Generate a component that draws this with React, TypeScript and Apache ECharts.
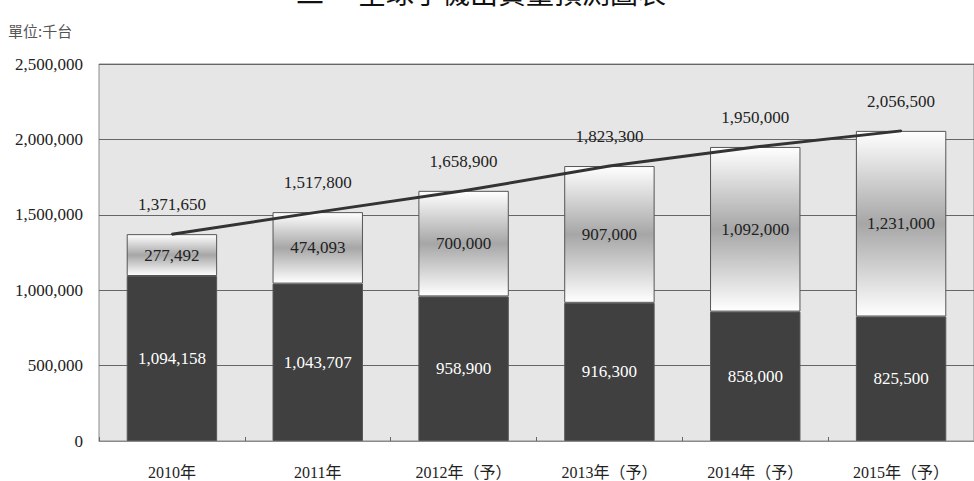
import React, { useEffect, useRef } from "react";
import * as echarts from "echarts";

const categories = ["2010年", "2011年", "2012年（予）", "2013年（予）", "2014年（予）", "2015年（予）"];
const baseValues = [1094158, 1043707, 958900, 916300, 858000, 825500];
const upperValues = [277492, 474093, 700000, 907000, 1092000, 1231000];
const totalValues = [1371650, 1517800, 1658900, 1823300, 1950000, 2056500];
const yTicks = { min: 0, max: 2500000, interval: 500000 };

const SERIF = '"Liberation Serif", "Noto Sans CJK TC", serif';
const fmt = (v: number) => v.toLocaleString("en-US");

export default function App() {
  const ref = useRef<HTMLDivElement>(null);
  useEffect(() => {
    if (!ref.current) return;
    const chart = echarts.init(ref.current, undefined, { renderer: "svg" });
    chart.setOption({
      animation: false,
      backgroundColor: "#ffffff",
      graphic: [
        {
          type: "text",
          x: 296,
          y: 6,
          style: { text: "二", fontSize: 28, fontFamily: '"Noto Sans CJK TC"', fill: "#111", textVerticalAlign: "bottom" },
        },
        {
          type: "text",
          x: 358,
          y: 6,
          style: { text: "全球手機出貨量預測圖表", fontSize: 28, fontFamily: '"Noto Sans CJK TC"', fill: "#111", textVerticalAlign: "bottom" },
        },
        {
          type: "text",
          x: 8,
          y: 30,
          style: { text: "單位:千台", fontSize: 15, fontFamily: '"Noto Sans CJK TC"', fill: "#555", textVerticalAlign: "middle" },
        },
      ],
      grid: {
        left: 99,
        top: 64,
        width: 884,
        height: 377,
        show: true,
        backgroundColor: "#e6e6e6",
        borderColor: "#8a8a8a",
        borderWidth: 1,
        containLabel: false,
      },
      xAxis: {
        type: "category",
        data: categories,
        axisLine: { show: true, lineStyle: { color: "#8a8a8a", width: 1 } },
        axisTick: { show: true, inside: true, length: 4, lineStyle: { color: "#666" } },
        axisLabel: { fontFamily: SERIF, fontSize: 16, color: "#222", margin: 23 },
      },
      yAxis: {
        type: "value",
        min: yTicks.min,
        max: yTicks.max,
        interval: yTicks.interval,
        axisLine: { show: false },
        axisTick: { show: false },
        splitLine: { show: true, lineStyle: { color: "#666", width: 1 } },
        axisLabel: { fontFamily: SERIF, fontSize: 17, color: "#222", margin: 16, formatter: (v: number) => fmt(v) },
      },
      series: [
        {
          type: "bar",
          stack: "total",
          data: baseValues,
          barWidth: "62%",
          itemStyle: { color: "#404040", borderColor: "#555", borderWidth: 1 },
          label: {
            show: true,
            position: "inside",
            color: "#ffffff",
            fontFamily: SERIF,
            fontSize: 17,
            formatter: (p: any) => fmt(p.value),
          },
        },
        {
          type: "bar",
          stack: "total",
          data: upperValues,
          barWidth: "62%",
          itemStyle: {
            color: new echarts.graphic.LinearGradient(0, 0, 0, 1, [
              { offset: 0, color: "#ffffff" },
              { offset: 0.5, color: "#a6a6a6" },
              { offset: 1, color: "#ffffff" },
            ]),
            borderColor: "#555",
            borderWidth: 1,
          },
          label: {
            show: true,
            position: "inside",
            color: "#222",
            fontFamily: SERIF,
            fontSize: 17,
            formatter: (p: any) => fmt(p.value),
          },
        },
        {
          type: "line",
          data: totalValues,
          symbol: "circle",
          symbolSize: 2,
          showSymbol: true,
          itemStyle: { color: "#333" },
          lineStyle: { color: "#333", width: 3 },
          z: 5,
          label: {
            show: true,
            position: "top",
            distance: 20,
            color: "#222",
            fontFamily: SERIF,
            fontSize: 17,
            formatter: (p: any) => fmt(p.value),
          },
        },
      ],
    });
    return () => chart.dispose();
  }, []);
  return <div ref={ref} style={{ position: "fixed", left: 0, top: 0, width: 974, height: 481 }} />;
}
